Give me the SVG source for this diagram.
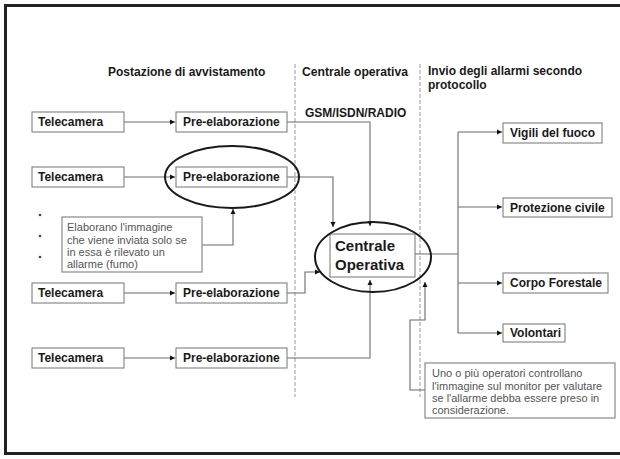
<svg xmlns="http://www.w3.org/2000/svg" width="620" height="459" viewBox="0 0 620 459">
<defs>
<style>
.box{fill:#fff;stroke:#8a8a8a;stroke-width:1.2}
.lbl{font-family:"Liberation Sans",Arial,sans-serif;font-size:12px;font-weight:bold;fill:#1a1a1a}
.hdr{font-family:"Liberation Sans",Arial,sans-serif;font-size:12px;font-weight:bold;fill:#1a1a1a}
.note{font-family:"Liberation Sans",Arial,sans-serif;font-size:11px;fill:#555}
.con{fill:none;stroke:#6a6a6a;stroke-width:1.1}
.div{stroke:#999;stroke-width:1;stroke-dasharray:4 2}
.ell{fill:none;stroke:#1a1a1a;stroke-width:2}
</style>
<marker id="ah" markerWidth="6" markerHeight="6" refX="5" refY="3" orient="auto" markerUnits="userSpaceOnUse">
<path d="M0,0.5 L5,3 L0,5.5 Z" fill="#111"/>
</marker>
</defs>
<rect x="0" y="0" width="620" height="459" fill="#fff"/>
<rect x="5.5" y="5.5" width="640" height="448" fill="none" stroke="#222" stroke-width="3"/>

<g id="dividers">
<line class="div" x1="295" y1="64" x2="295" y2="397"/>
<line class="div" x1="420" y1="64" x2="420" y2="397"/>
</g>

<g id="headers">
<text class="hdr" x="108" y="76">Postazione di avvistamento</text>
<text class="hdr" x="302" y="76" textLength="106" lengthAdjust="spacingAndGlyphs">Centrale operativa</text>
<text class="hdr" x="428" y="75">Invio degli allarmi secondo</text>
<text class="hdr" x="428" y="89">protocollo</text>
<text class="hdr" x="305" y="117">GSM/ISDN/RADIO</text>
</g>

<g id="connectors">
<path class="con" d="M124,122 H175" marker-end="url(#ah)"/>
<path class="con" d="M124,177 H175" marker-end="url(#ah)"/>
<path class="con" d="M124,293 H175" marker-end="url(#ah)"/>
<path class="con" d="M124,358 H175" marker-end="url(#ah)"/>
<path class="con" d="M287,122 H370 V226" marker-end="url(#ah)"/>
<path class="con" d="M287,177 H333 V227" marker-end="url(#ah)"/>
<path class="con" d="M287,293 H305 V272 H320" marker-end="url(#ah)"/>
<path class="con" d="M287,358 H370 V280" marker-end="url(#ah)"/>
<path class="con" d="M425,390 H410 V320 H425 V282" marker-end="url(#ah)"/>
<path class="con" d="M202,245 H233 V209" marker-end="url(#ah)"/>
<path class="con" d="M415,254 H458"/>
<path class="con" d="M458,132 V333"/>
<path class="con" d="M458,132 H502" marker-end="url(#ah)"/>
<path class="con" d="M458,207 H502" marker-end="url(#ah)"/>
<path class="con" d="M458,283 H502" marker-end="url(#ah)"/>
<path class="con" d="M458,333 H502" marker-end="url(#ah)"/>
</g>

<g id="tel1"><rect class="box" x="32" y="112" width="92" height="20"/><text class="lbl" x="38" y="126">Telecamera</text></g>
<g id="pre1"><rect class="box" x="176" y="112" width="111" height="20"/><text class="lbl" x="183" y="126">Pre-elaborazione</text></g>
<g id="tel2"><rect class="box" x="32" y="167" width="92" height="20"/><text class="lbl" x="38" y="181">Telecamera</text></g>
<g id="pre2"><rect class="box" x="176" y="167" width="111" height="20"/><text class="lbl" x="183" y="181">Pre-elaborazione</text>
<ellipse class="ell" cx="232" cy="177" rx="67" ry="31"/></g>
<g id="tel3"><rect class="box" x="32" y="283" width="92" height="20"/><text class="lbl" x="38" y="297">Telecamera</text></g>
<g id="pre3"><rect class="box" x="176" y="283" width="111" height="20"/><text class="lbl" x="183" y="297">Pre-elaborazione</text></g>
<g id="tel4"><rect class="box" x="32" y="348" width="92" height="20"/><text class="lbl" x="38" y="362">Telecamera</text></g>
<g id="pre4"><rect class="box" x="176" y="348" width="111" height="20"/><text class="lbl" x="183" y="362">Pre-elaborazione</text></g>

<g id="dots" fill="#444">
<circle cx="40" cy="215" r="1.3"/>
<circle cx="40" cy="236" r="1.3"/>
<circle cx="40" cy="257" r="1.3"/>
</g>

<g id="annotation">
<rect class="box" x="62" y="217" width="140" height="55"/>
<text class="note" x="67" y="231">Elaborano l'immagine</text>
<text class="note" x="67" y="243.5">che viene inviata solo se</text>
<text class="note" x="67" y="256">in essa è rilevato un</text>
<text class="note" x="67" y="268">allarme (fumo)</text>
</g>

<g id="centrale">
<rect class="box" x="330" y="234" width="85" height="43"/>
<text class="lbl" x="335" y="251" style="font-size:15px">Centrale</text>
<text class="lbl" x="335" y="270" style="font-size:15px">Operativa</text>
<ellipse class="ell" cx="373" cy="257" rx="58" ry="35"/>
</g>

<g id="vigili"><rect class="box" x="503" y="123" width="99" height="20"/><text class="lbl" x="510" y="137">Vigili del fuoco</text></g>
<g id="protezione"><rect class="box" x="503" y="198" width="109" height="19"/><text class="lbl" x="510" y="212">Protezione civile</text></g>
<g id="corpo"><rect class="box" x="503" y="273" width="105" height="20"/><text class="lbl" x="510" y="287">Corpo Forestale</text></g>
<g id="volontari"><rect class="box" x="503" y="324" width="62" height="18"/><text class="lbl" x="510" y="337">Volontari</text></g>

<g id="operatori">
<rect class="box" x="425" y="363" width="190" height="55"/>
<text class="note" x="432" y="377">Uno o più operatori controllano</text>
<text class="note" x="432" y="389.5">l'immagine sul monitor per valutare</text>
<text class="note" x="432" y="401.5">se l'allarme debba essere preso in</text>
<text class="note" x="432" y="413.5">considerazione.</text>
</g>
</svg>
